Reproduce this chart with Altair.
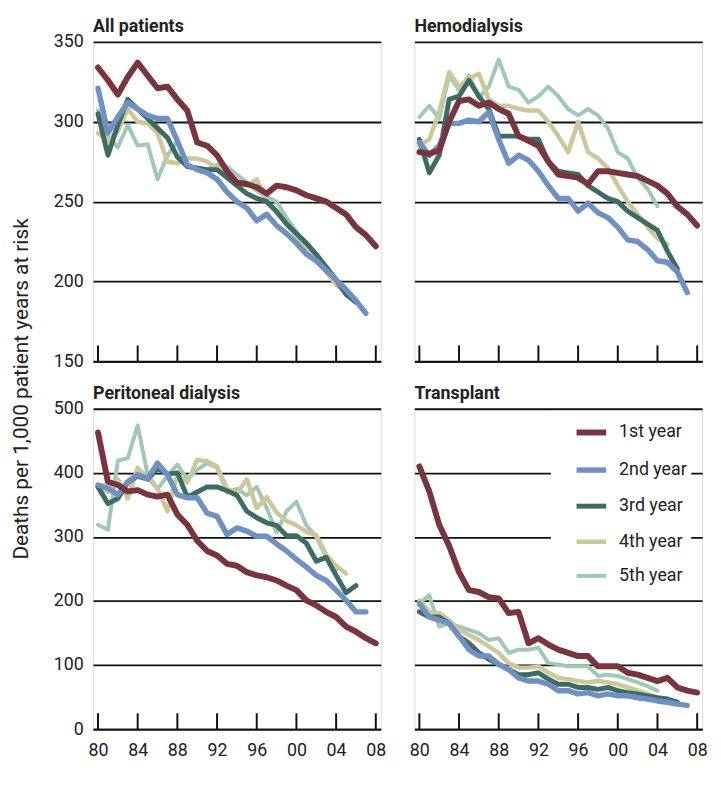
import altair as alt
import pandas as pd

FONT = "Roboto"

years = list(range(1980, 2009))
series_names = ["1st year", "2nd year", "3rd year", "4th year", "5th year"]
series_colors = ["#78343f", "#7090c2", "#3e6b62", "#cbc89b", "#9fc8b5"]
tick_years = [1980, 1984, 1988, 1992, 1996, 2000, 2004, 2008]
panels = ["All patients", "Hemodialysis", "Peritoneal dialysis", "Transplant"]

# All patients
all_1st = [334, 326, 317, 328, 337, 329, 321, 322, 314, 307, 287, 285, 279, 269, 262, 261, 259, 255, 260, 259, 257, 254, 252, 250, 246, 242, 234, 229, 222]
all_2nd = [321, 293, 303, 312, 308, 304, 302, 302, 288, 273, 270, 268, 264, 256, 250, 246, 238, 242, 235, 230, 224, 217, 213, 207, 201, 195, 188, 180]
all_3rd = [305, 279, 298, 314, 308, 302, 296, 290, 278, 272, 271, 270, 270, 265, 260, 255, 252, 250, 244, 236, 230, 224, 217, 209, 201, 192, 187]
all_4th = [293, 288, 294, 308, 300, 299, 293, 275, 274, 277, 277, 275, 271, 267, 262, 260, 264, 250, 243, 236, 228, 220, 213, 206, 198, 193]
all_5th = [307, 291, 284, 298, 285, 286, 264, 279, 288, 272, 271, 270, 273, 272, 267, 262, 257, 253, 250, 240, 231, 222, 213, 206, 200]

# Hemodialysis
hd_1st = [281, 280, 282, 300, 313, 314, 310, 312, 308, 305, 291, 288, 285, 275, 267, 266, 265, 261, 269, 269, 268, 267, 266, 263, 260, 255, 247, 242, 235]
hd_2nd = [287, 279, 285, 299, 299, 301, 300, 306, 289, 274, 279, 276, 269, 260, 252, 252, 244, 249, 243, 240, 234, 226, 225, 220, 213, 212, 206, 193]
hd_3rd = [289, 268, 279, 314, 316, 326, 316, 308, 291, 291, 291, 289, 289, 275, 269, 268, 267, 260, 256, 252, 250, 244, 240, 236, 232, 219, 208]
hd_4th = [285, 289, 306, 331, 322, 327, 330, 314, 310, 310, 308, 307, 307, 300, 291, 281, 300, 281, 277, 271, 260, 250, 242, 234, 227, 223]
hd_5th = [303, 310, 302, 329, 320, 329, 315, 322, 339, 322, 320, 312, 316, 322, 316, 308, 304, 308, 304, 296, 281, 277, 265, 258, 247]

# Peritoneal dialysis
pd_1st = [463, 386, 381, 371, 373, 366, 363, 366, 335, 319, 294, 278, 271, 258, 255, 245, 240, 237, 232, 224, 217, 201, 193, 183, 175, 160, 152, 142, 134]
pd_2nd = [381, 376, 366, 386, 397, 391, 415, 397, 366, 361, 361, 337, 332, 304, 314, 309, 301, 301, 289, 278, 265, 253, 240, 232, 217, 201, 183, 183]
pd_3rd = [378, 352, 360, 385, 395, 390, 407, 398, 400, 362, 370, 378, 378, 372, 365, 340, 330, 322, 318, 302, 302, 290, 262, 268, 240, 213, 224]
pd_4th = [378, 370, 390, 360, 408, 392, 375, 340, 398, 385, 420, 418, 410, 375, 368, 390, 345, 362, 338, 325, 318, 308, 303, 272, 255, 243]
pd_5th = [319, 311, 419, 423, 474, 397, 375, 395, 413, 390, 405, 415, 408, 370, 375, 365, 378, 345, 307, 340, 355, 318, 300, 268, 248]

# Transplant
tx_1st = [410, 371, 319, 286, 245, 217, 214, 206, 204, 181, 183, 134, 142, 132, 124, 119, 114, 114, 98, 98, 98, 88, 85, 80, 75, 80, 65, 60, 57]
tx_2nd = [196, 175, 170, 165, 145, 124, 114, 114, 101, 93, 80, 75, 75, 70, 60, 60, 55, 57, 52, 55, 52, 52, 49, 47, 44, 42, 39, 37]
tx_3rd = [183, 175, 175, 165, 145, 134, 119, 109, 101, 93, 85, 85, 88, 78, 70, 70, 65, 65, 62, 65, 60, 57, 55, 52, 49, 47, 42]
tx_4th = [201, 183, 181, 170, 155, 147, 139, 129, 119, 103, 96, 96, 98, 88, 80, 78, 75, 73, 75, 73, 70, 65, 60, 55, 49, 47]
tx_5th = [196, 209, 160, 165, 160, 155, 150, 139, 142, 119, 124, 124, 127, 103, 101, 98, 98, 98, 83, 85, 83, 78, 73, 67, 60]

panel_series = {
    "All patients": [all_1st, all_2nd, all_3rd, all_4th, all_5th],
    "Hemodialysis": [hd_1st, hd_2nd, hd_3rd, hd_4th, hd_5th],
    "Peritoneal dialysis": [pd_1st, pd_2nd, pd_3rd, pd_4th, pd_5th],
    "Transplant": [tx_1st, tx_2nd, tx_3rd, tx_4th, tx_5th],
}

rows = []
for panel, series_list in panel_series.items():
    # draw 5th year first so 1st year lies on top
    for name, vals in reversed(list(zip(series_names, series_list))):
        for yr, v in zip(years, vals):
            rows.append({"panel": panel, "series": name, "year": yr, "value": v})
df = pd.DataFrame(rows)
ticks_df = pd.DataFrame({"year": tick_years})

W = 291


def make_panel(name, ydomain, yticks, H, show_y, show_x, show_legend):
    xscale = alt.Scale(domain=[1979.5, 2008.5], nice=False, zero=False)
    xaxis = alt.Axis(
        values=tick_years, labels=show_x, ticks=False, grid=False, title=None,
        domainColor="#111", domainWidth=2,
        labelExpr="substring(toString(datum.value), 2, 4)",
        labelFont=FONT, labelFontSize=18, labelColor="#222", labelPadding=13,
    )
    if show_y:
        yaxis = alt.Axis(
            values=yticks, ticks=False, domain=False, grid=True,
            gridColor="#111", gridWidth=1.8, title=None,
            labelFont=FONT, labelFontSize=18, labelColor="#222", labelPadding=10,
        )
    else:
        # one invisible label at the top keeps the title height equal to the left panel's
        yaxis = alt.Axis(
            values=yticks, ticks=False, domain=False, grid=True,
            gridColor="#111", gridWidth=1.8, title=None,
            labelExpr=f"datum.value == {ydomain[1]} ? '0' : ''", labelOpacity=0,
            labelFont=FONT, labelFontSize=18, labelPadding=0,
        )
    if show_legend:
        legend = alt.Legend(
            orient="none", legendX=138, legendY=2, title=None,
            fillColor="white", padding=4, symbolType="stroke",
            symbolSize=900, symbolStrokeWidth=8, symbolOffset=19,
            labelFont=FONT, labelFontSize=18, labelColor="#222",
            labelOffset=10, rowPadding=8,
        )
    else:
        legend = None
    lines = alt.Chart(df[df.panel == name]).mark_line(strokeJoin="round", strokeCap="round").encode(
        x=alt.X("year:Q", scale=xscale, axis=xaxis),
        y=alt.Y("value:Q", scale=alt.Scale(domain=ydomain, nice=False, zero=False), axis=yaxis),
        color=alt.Color("series:N", scale=alt.Scale(domain=series_names, range=series_colors), legend=legend),
        strokeWidth=alt.StrokeWidth("series:N", scale=alt.Scale(domain=series_names, range=[6, 4, 4, 4, 4]), legend=None),
        detail="series:N",
    )
    ticks = alt.Chart(ticks_df).mark_rule(color="#111", strokeWidth=2).encode(
        x=alt.X("year:Q", scale=xscale, axis=xaxis),
        y=alt.value(H),
        y2=alt.value(H - 16),
    )
    return alt.layer(lines, ticks).properties(
        width=W, height=H,
        title=alt.TitleParams(name, anchor="start", frame="group", font=FONT, fontSize=18,
                              fontWeight="bold", color="#222", offset=0, dy=3),
    )


top_ticks = [150, 200, 250, 300, 350]
bot_ticks = [0, 100, 200, 300, 400, 500]

p1 = make_panel("All patients", [150, 350], top_ticks, 323, True, False, False)
p2 = make_panel("Hemodialysis", [150, 350], top_ticks, 323, False, False, False)
p3 = make_panel("Peritoneal dialysis", [0, 500], bot_ticks, 324, True, True, False)
p4 = make_panel("Transplant", [0, 500], bot_ticks, 324, False, True, True)

chart = alt.concat(
    p1, p2, p3, p4, columns=2,
    spacing=alt.RowColnumber(row=48, column=34),
    bounds="flush",
).resolve_legend(
    color="independent", strokeWidth="independent"
).properties(
    padding={"left": 3, "top": 5, "right": 5, "bottom": 2},
    title=alt.TitleParams("Deaths per 1,000 patient years at risk", orient="left", anchor="middle",
                          font=FONT, fontSize=21, fontWeight="normal", color="#222", offset=21),
).configure_view(stroke=None).configure(background="white")

chart.save("out.html", embed_options={"renderer": "svg", "actions": False})
